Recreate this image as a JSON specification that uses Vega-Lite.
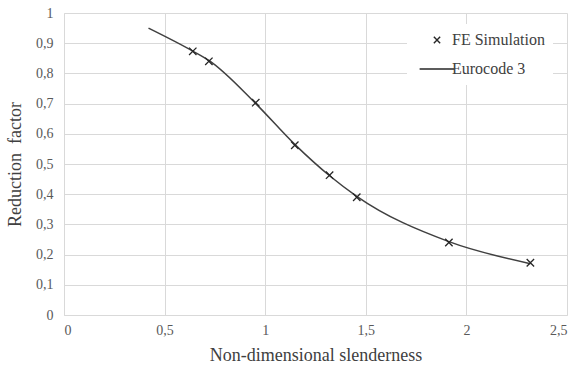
{
  "$schema": "https://vega.github.io/schema/vega-lite/v6.json",
  "width": 503,
  "height": 302,
  "autosize": {"type": "none"},
  "padding": {"left": 64, "top": 13, "right": 10, "bottom": 57},
  "background": "white",
  "config": {
    "view": {"stroke": null},
    "font": "Liberation Serif",
    "style": {
      "guide-label": {"font": "Liberation Serif", "fontSize": 14, "fill": "#595959"},
      "guide-title": {"font": "Liberation Serif", "fontSize": 18, "fill": "#404040", "fontWeight": "normal"}
    }
  },
  "datasets": {
    "curves": [
      {"series": "FE Simulation", "slenderness": 0.64, "factor": 0.873},
      {"series": "FE Simulation", "slenderness": 0.72, "factor": 0.84},
      {"series": "FE Simulation", "slenderness": 0.953, "factor": 0.703},
      {"series": "FE Simulation", "slenderness": 1.147, "factor": 0.562},
      {"series": "FE Simulation", "slenderness": 1.32, "factor": 0.463},
      {"series": "FE Simulation", "slenderness": 1.455, "factor": 0.39},
      {"series": "FE Simulation", "slenderness": 1.913, "factor": 0.24},
      {"series": "FE Simulation", "slenderness": 2.318, "factor": 0.173},
      {"series": "Eurocode 3", "slenderness": 0.42, "factor": 0.95},
      {"series": "Eurocode 3", "slenderness": 0.64, "factor": 0.874},
      {"series": "Eurocode 3", "slenderness": 0.72, "factor": 0.843},
      {"series": "Eurocode 3", "slenderness": 0.953, "factor": 0.7},
      {"series": "Eurocode 3", "slenderness": 1.147, "factor": 0.565},
      {"series": "Eurocode 3", "slenderness": 1.32, "factor": 0.461},
      {"series": "Eurocode 3", "slenderness": 1.455, "factor": 0.393},
      {"series": "Eurocode 3", "slenderness": 1.913, "factor": 0.243},
      {"series": "Eurocode 3", "slenderness": 2.318, "factor": 0.17}
    ]
  },
  "data": {"name": "curves"},
  "encoding": {
    "x": {
      "field": "slenderness",
      "type": "quantitative",
      "scale": {"domain": [0, 2.5], "nice": false},
      "axis": {
        "values": [0, 0.5, 1, 1.5, 2, 2.5],
        "labelExpr": "replace(format(datum.value, '.1~f'), '.', ',')",
        "labelOverlap": false,
        "labelFont": "Liberation Serif",
        "labelFontSize": 14,
        "labelColor": "#595959",
        "labelPadding": 8,
        "gridColor": "#d9d9d9",
        "domainColor": "#d9d9d9",
        "ticks": false,
        "title": "Non-dimensional slenderness",
        "titleFont": "Liberation Serif",
        "titleFontSize": 18,
        "titleFontWeight": "normal",
        "titleColor": "#404040",
        "titlePadding": 9
      }
    },
    "y": {
      "field": "factor",
      "type": "quantitative",
      "scale": {"domain": [0, 1], "nice": false},
      "axis": {
        "values": [0, 0.1, 0.2, 0.3, 0.4, 0.5, 0.6, 0.7, 0.8, 0.9, 1],
        "labelExpr": "replace(format(datum.value, '.1~f'), '.', ',')",
        "labelOverlap": false,
        "labelFont": "Liberation Serif",
        "labelFontSize": 14,
        "labelColor": "#595959",
        "labelPadding": 11,
        "gridColor": "#d9d9d9",
        "domainColor": "#d9d9d9",
        "ticks": false,
        "title": "Reduction\u00a0 factor",
        "titleFont": "Liberation Serif",
        "titleFontSize": 18,
        "titleFontWeight": "normal",
        "titleColor": "#404040",
        "titlePadding": 11
      }
    }
  },
  "layer": [
    {
      "transform": [{"filter": "datum.series === 'Eurocode 3'"}],
      "mark": {"type": "line", "interpolate": "monotone", "color": "#404040", "strokeWidth": 1.5}
    },
    {
      "transform": [{"filter": "datum.series === 'FE Simulation'"}],
      "mark": {"type": "point", "filled": false, "strokeWidth": 1.3, "size": 55, "opacity": 1},
      "encoding": {
        "shape": {
          "datum": "FE Simulation",
          "type": "nominal",
          "scale": {
            "domain": ["FE Simulation", "Eurocode 3"],
            "range": ["M-1,-1L1,1M-1,1L1,-1", "M-5.5,0L5.5,0"]
          },
          "legend": {
            "title": null,
            "orient": "none",
            "legendX": 343,
            "legendY": 11,
            "fillColor": "white",
            "padding": 8,
            "labelFont": "Liberation Serif",
            "labelFontSize": 16,
            "labelColor": "#404040",
            "symbolStrokeColor": "#262626",
            "symbolStrokeWidth": 1.4,
            "symbolSize": 40,
            "symbolOffset": 14,
            "labelOffset": 7,
            "rowPadding": 13
          }
        },
        "color": {"value": "#262626"}
      }
    }
  ]
}
